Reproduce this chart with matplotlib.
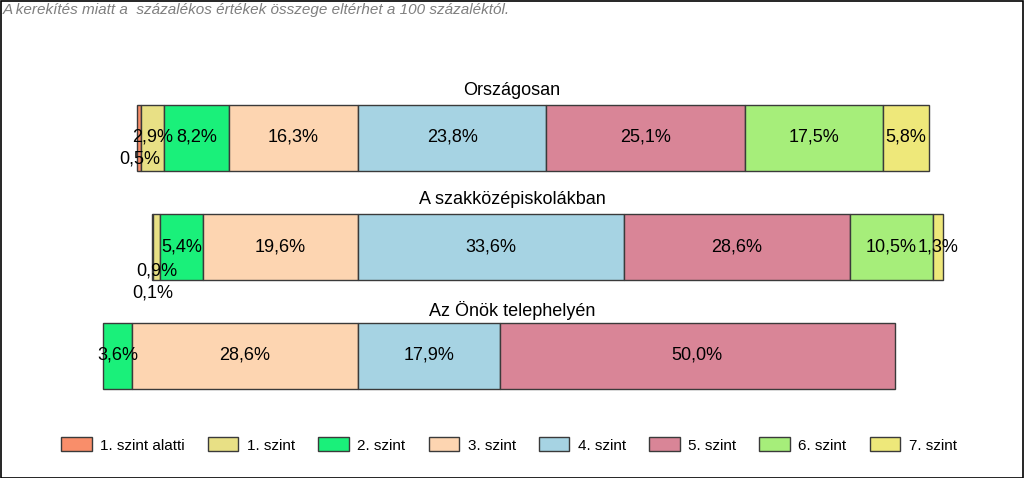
import matplotlib
matplotlib.use("Agg")
import matplotlib.pyplot as plt
from matplotlib.patches import Rectangle, Patch

plt.rcParams['font.family'] = ['Liberation Sans', 'DejaVu Sans']

groups = ["Országosan", "A szakközépiskolákban", "Az Önök telephelyén"]
levels = ["1. szint alatti", "1. szint", "2. szint", "3. szint",
          "4. szint", "5. szint", "6. szint", "7. szint"]
orszagos = [0.5, 2.9, 8.2, 16.3, 23.8, 25.1, 17.5, 5.8]
szakkozep = [0.1, 0.9, 5.4, 19.6, 33.6, 28.6, 10.5, 1.3]
telephely = [0.0, 0.0, 3.6, 28.6, 17.9, 50.0, 0.0, 0.0]
series = [orszagos, szakkozep, telephely]
colors = ["#F98E6A", "#E8E085", "#1AF07A", "#FDD5B1",
          "#A6D3E3", "#D98597", "#A6EE7A", "#EEE87A"]
note = "A kerekítés miatt a  százalékos értékek összege eltérhet a 100 százaléktól."

# label offsets (pixels, downward) for tiny segments: (group, level) -> dy
label_dy = {(0, 0): 21, (1, 0): 47, (1, 1): 24}

W, H = 1024, 478
fig = plt.figure(figsize=(W / 100, H / 100), dpi=100)
ax = fig.add_axes([0, 0, 1, 1])
scale = 7.91   # px per percent
anchor = 358   # px of boundary between 3. and 4. szint
ax.set_xlim(-anchor / scale, (W - anchor) / scale)
ax.set_ylim(H, 0)
ax.axis('off')

centers = [137.5, 246.5, 355.5]
title_y = [90, 200, 310]
bar_h = 66
for gi, vals in enumerate(series):
    left = -sum(vals[:4])
    for li, v in enumerate(vals):
        if v > 0:
            ax.barh(centers[gi], v, left=left, height=bar_h, color=colors[li],
                    edgecolor="#3a3a3a", linewidth=1.0)
            dy = label_dy.get((gi, li), 0)
            ax.text(left + v / 2, centers[gi] + dy,
                    f"{v:.1f}%".replace('.', ','), ha='center', va='center',
                    fontsize=13, color='black')
        left += v
    ax.text((W / 2 - anchor) / scale, title_y[gi], groups[gi], ha='center',
            va='center', fontsize=13)

fig.text(3 / W, 1 - 10 / H, note, ha='left', va='center', fontsize=11,
         style='italic', color='#7f7f7f')

handles = [Patch(facecolor=c, edgecolor='#3a3a3a', linewidth=1.0) for c in colors]
fig.legend(handles, levels, loc='center', bbox_to_anchor=(0.497, 1 - 445 / H),
           ncol=8, frameon=False, fontsize=11, handlelength=2.0,
           handleheight=1.0, columnspacing=1.52, handletextpad=0.55)

fig.patches.append(Rectangle((0.5 / W, 0.5 / H), 1 - 1.5 / W, 1 - 1.5 / H,
                             transform=fig.transFigure, fill=False,
                             edgecolor='black', linewidth=1.2))

fig.savefig("out.png", dpi=100)
